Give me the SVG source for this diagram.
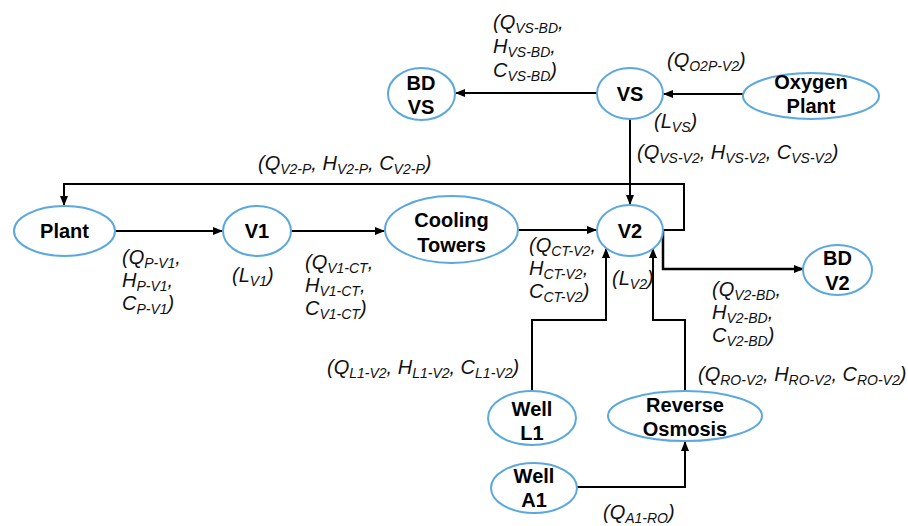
<svg xmlns="http://www.w3.org/2000/svg" width="908" height="526" viewBox="0 0 908 526">
<style>
.n ellipse{fill:#fff;stroke:#5BA8DE;stroke-width:2}
.n text{font-family:"Liberation Sans",Arial,sans-serif;font-weight:bold;font-size:20px;text-anchor:middle;fill:#000}
.c path{fill:none;stroke:#000;stroke-width:2}
.l text{font-family:"Liberation Sans",Arial,sans-serif;font-style:italic;font-size:20px;fill:#111}
.s{font-size:14px}
</style>
<defs>
<marker id="a" markerUnits="userSpaceOnUse" markerWidth="10" markerHeight="8" refX="9" refY="4" orient="auto">
<path d="M0,0 L10,4 L0,8 z" fill="#000"/>
</marker>
</defs>
<rect width="908" height="526" fill="#fff"/>
<g class="c" id="connectors">
<path d="M743,94 L664,94" marker-end="url(#a)"/>
<path d="M597,93 L456,93" marker-end="url(#a)"/>
<path d="M630,119 L630,204" marker-end="url(#a)"/>
<path d="M115,231 L222,231" marker-end="url(#a)"/>
<path d="M291,231 L384,231" marker-end="url(#a)"/>
<path d="M518,230 L596,230" marker-end="url(#a)"/>
<path d="M663,230 L684,230 L684,184 L64,184 L64,205" marker-end="url(#a)"/>
<path d="M663,230 L663,269 L803,269" marker-end="url(#a)" style="stroke-width:2.5"/>
<path d="M532,391 L532,320 L606,320 L606,249" marker-end="url(#a)"/>
<path d="M685,391 L685,320 L653,320 L653,249" marker-end="url(#a)"/>
<path d="M577,487 L685,487 L685,442" marker-end="url(#a)"/>
</g>
<g class="n" id="bdvs"><ellipse cx="421.5" cy="94" rx="33.5" ry="26"/><text x="421" y="90">BD</text><text x="421" y="114">VS</text></g>
<g class="n" id="vs"><ellipse cx="630" cy="93.5" rx="33" ry="25.5"/><text x="630" y="101">VS</text></g>
<g class="n" id="oxygen"><ellipse cx="811" cy="96" rx="68" ry="23"/><text x="811" y="89">Oxygen</text><text x="811" y="113">Plant</text></g>
<g class="n" id="plant"><ellipse cx="64.5" cy="231" rx="50.5" ry="25"/><text x="64.5" y="238">Plant</text></g>
<g class="n" id="v1"><ellipse cx="257" cy="231" rx="34" ry="25"/><text x="257" y="238">V1</text></g>
<g class="n" id="cooling"><ellipse cx="451.5" cy="229.5" rx="66.5" ry="33.5"/><text x="451.5" y="227">Cooling</text><text x="451.5" y="252">Towers</text></g>
<g class="n" id="v2"><ellipse cx="630" cy="230.5" rx="33" ry="25.5"/><text x="630" y="238">V2</text></g>
<g class="n" id="bdv2"><ellipse cx="837.5" cy="270" rx="34.5" ry="25"/><text x="837.5" y="265">BD</text><text x="837.5" y="290">V2</text></g>
<g class="n" id="welll1"><ellipse cx="532" cy="418" rx="44" ry="27"/><text x="532" y="416">Well</text><text x="532" y="440">L1</text></g>
<g class="n" id="ro"><ellipse cx="685" cy="416" rx="77" ry="25"/><text x="685" y="412">Reverse</text><text x="685" y="436">Osmosis</text></g>
<g class="n" id="wella1"><ellipse cx="534" cy="488" rx="43" ry="25"/><text x="534" y="483">Well</text><text x="534" y="507">A1</text></g>
<g class="l" id="labels">
<text x="493" y="29">(Q<tspan class="s" dy="4">VS-BD</tspan><tspan dy="-4">,</tspan></text>
<text x="493" y="53">H<tspan class="s" dy="4">VS-BD</tspan><tspan dy="-4">,</tspan></text>
<text x="493" y="77">C<tspan class="s" dy="4">VS-BD</tspan><tspan dy="-4">)</tspan></text>
<text x="667" y="67">(Q<tspan class="s" dy="4">O2P-V2</tspan><tspan dy="-4">)</tspan></text>
<text x="654" y="128">(L<tspan class="s" dy="4">VS</tspan><tspan dy="-4">)</tspan></text>
<text x="637" y="159">(Q<tspan class="s" dy="4">VS-V2</tspan><tspan dy="-4">, H</tspan><tspan class="s" dy="4">VS-V2</tspan><tspan dy="-4">, C</tspan><tspan class="s" dy="4">VS-V2</tspan><tspan dy="-4">)</tspan></text>
<text x="258" y="170">(Q<tspan class="s" dy="4">V2-P</tspan><tspan dy="-4">, H</tspan><tspan class="s" dy="4">V2-P</tspan><tspan dy="-4">, C</tspan><tspan class="s" dy="4">V2-P</tspan><tspan dy="-4">)</tspan></text>
<text x="122" y="264">(Q<tspan class="s" dy="4">P-V1</tspan><tspan dy="-4">,</tspan></text>
<text x="122" y="287">H<tspan class="s" dy="4">P-V1</tspan><tspan dy="-4">,</tspan></text>
<text x="122" y="310">C<tspan class="s" dy="4">P-V1</tspan><tspan dy="-4">)</tspan></text>
<text x="232" y="282">(L<tspan class="s" dy="4">V1</tspan><tspan dy="-4">)</tspan></text>
<text x="305" y="269">(Q<tspan class="s" dy="4">V1-CT</tspan><tspan dy="-4">,</tspan></text>
<text x="305" y="292">H<tspan class="s" dy="4">V1-CT</tspan><tspan dy="-4">,</tspan></text>
<text x="305" y="315">C<tspan class="s" dy="4">V1-CT</tspan><tspan dy="-4">)</tspan></text>
<text x="529" y="252">(Q<tspan class="s" dy="4">CT-V2</tspan><tspan dy="-4">,</tspan></text>
<text x="529" y="275">H<tspan class="s" dy="4">CT-V2</tspan><tspan dy="-4">,</tspan></text>
<text x="529" y="298">C<tspan class="s" dy="4">CT-V2</tspan><tspan dy="-4">)</tspan></text>
<text x="612" y="285">(L<tspan class="s" dy="4">V2</tspan><tspan dy="-4">)</tspan></text>
<text x="712" y="296">(Q<tspan class="s" dy="4">V2-BD</tspan><tspan dy="-4">,</tspan></text>
<text x="712" y="319">H<tspan class="s" dy="4">V2-BD</tspan><tspan dy="-4">,</tspan></text>
<text x="712" y="342">C<tspan class="s" dy="4">V2-BD</tspan><tspan dy="-4">)</tspan></text>
<text x="327" y="374">(Q<tspan class="s" dy="4">L1-V2</tspan><tspan dy="-4">, H</tspan><tspan class="s" dy="4">L1-V2</tspan><tspan dy="-4">, C</tspan><tspan class="s" dy="4">L1-V2</tspan><tspan dy="-4">)</tspan></text>
<text x="698" y="381">(Q<tspan class="s" dy="4">RO-V2</tspan><tspan dy="-4">, H</tspan><tspan class="s" dy="4">RO-V2</tspan><tspan dy="-4">, C</tspan><tspan class="s" dy="4">RO-V2</tspan><tspan dy="-4">)</tspan></text>
<text x="603" y="519">(Q<tspan class="s" dy="4">A1-RO</tspan><tspan dy="-4">)</tspan></text>
</g>
</svg>
